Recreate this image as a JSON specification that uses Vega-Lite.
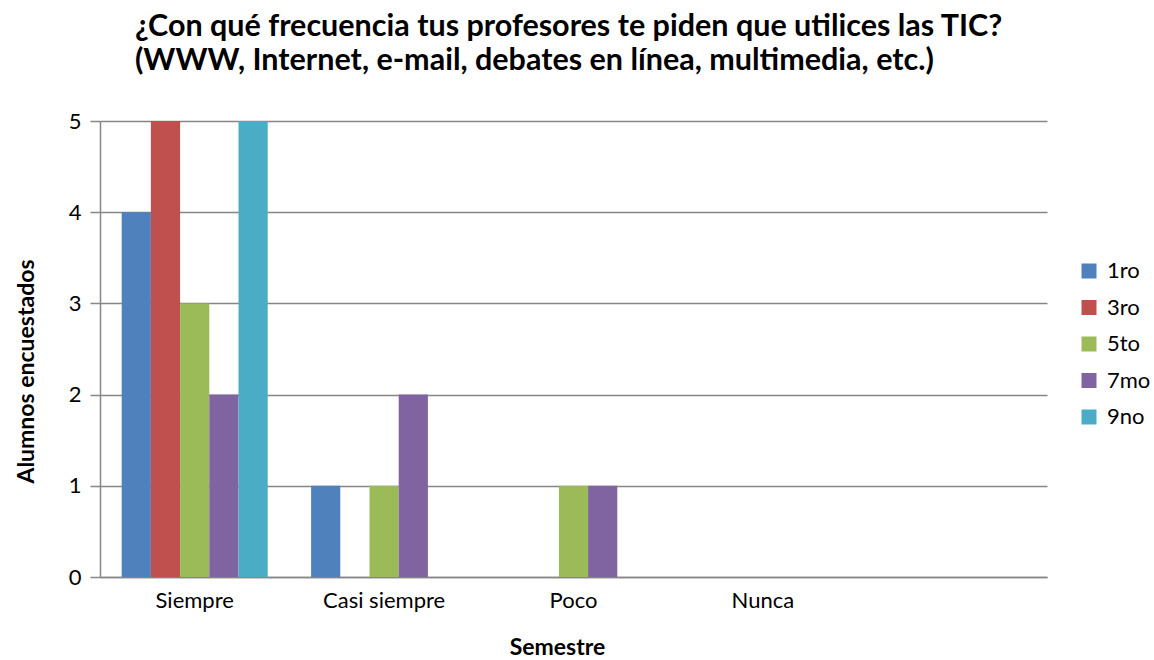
{
  "$schema": "https://vega.github.io/schema/vega-lite/v6.json",
  "autosize": {"type": "none"},
  "padding": {"left": 100, "top": 121, "right": 107, "bottom": 83},
  "width": 947,
  "height": 456,
  "background": "white",
  "title": {
    "text": ["¿Con qué frecuencia tus profesores te piden que utilices las TIC?", "(WWW, Internet, e-mail, debates en línea, multimedia, etc.)"],
    "anchor": "start",
    "frame": "group",
    "dx": 35,
    "offset": 34,
    "font": "Lato",
    "fontSize": 30.5,
    "fontWeight": "bold",
    "lineHeight": 34,
    "color": "black"
  },
  "data": {
    "values": [
      {"frecuencia": "Siempre", "semestre": "1ro", "alumnos": 4},
      {"frecuencia": "Siempre", "semestre": "3ro", "alumnos": 5},
      {"frecuencia": "Siempre", "semestre": "5to", "alumnos": 3},
      {"frecuencia": "Siempre", "semestre": "7mo", "alumnos": 2},
      {"frecuencia": "Siempre", "semestre": "9no", "alumnos": 5},
      {"frecuencia": "Casi siempre", "semestre": "1ro", "alumnos": 1},
      {"frecuencia": "Casi siempre", "semestre": "3ro", "alumnos": 0},
      {"frecuencia": "Casi siempre", "semestre": "5to", "alumnos": 1},
      {"frecuencia": "Casi siempre", "semestre": "7mo", "alumnos": 2},
      {"frecuencia": "Casi siempre", "semestre": "9no", "alumnos": 0},
      {"frecuencia": "Poco", "semestre": "1ro", "alumnos": 0},
      {"frecuencia": "Poco", "semestre": "3ro", "alumnos": 0},
      {"frecuencia": "Poco", "semestre": "5to", "alumnos": 1},
      {"frecuencia": "Poco", "semestre": "7mo", "alumnos": 1},
      {"frecuencia": "Poco", "semestre": "9no", "alumnos": 0},
      {"frecuencia": "Nunca", "semestre": "1ro", "alumnos": 0},
      {"frecuencia": "Nunca", "semestre": "3ro", "alumnos": 0},
      {"frecuencia": "Nunca", "semestre": "5to", "alumnos": 0},
      {"frecuencia": "Nunca", "semestre": "7mo", "alumnos": 0},
      {"frecuencia": "Nunca", "semestre": "9no", "alumnos": 0}
    ]
  },
  "mark": {"type": "bar"},
  "encoding": {
    "x": {
      "field": "frecuencia",
      "type": "nominal",
      "scale": {"domain": ["Siempre", "Casi siempre", "Poco", "Nunca", " "], "paddingInner": 0.229, "paddingOuter": 0.1145},
      "axis": {
        "title": "Semestre",
        "titleFont": "Lato",
        "titleFontSize": 23,
        "titleFontWeight": "bold",
        "titleColor": "black",
        "titlePadding": 25,
        "titleX": 457,
        "labelFont": "Lato",
        "labelFontSize": 22,
        "labelColor": "black",
        "labelAngle": 0,
        "labelPadding": 13,
        "ticks": false,
        "domainColor": "#868686",
        "domainWidth": 1.5
      }
    },
    "xOffset": {
      "field": "semestre",
      "type": "nominal",
      "scale": {"paddingInner": 0, "paddingOuter": 0}
    },
    "y": {
      "field": "alumnos",
      "type": "quantitative",
      "scale": {"domain": [0, 5], "nice": false},
      "axis": {
        "title": "Alumnos encuestados",
        "titleFont": "Lato",
        "titleFontSize": 23,
        "titleFontWeight": "bold",
        "titleColor": "black",
        "titlePadding": 30,
        "titleY": 250,
        "labelFont": "Lato",
        "labelFontSize": 22,
        "labelColor": "black",
        "labelPadding": 9,
        "labelOverlap": false,
        "values": [0, 1, 2, 3, 4, 5],
        "format": "d",
        "tickSize": 10,
        "tickColor": "#868686",
        "tickWidth": 1.5,
        "grid": true,
        "gridColor": "#868686",
        "gridWidth": 1.5,
        "domainColor": "#868686",
        "domainWidth": 1.5
      }
    },
    "color": {
      "field": "semestre",
      "type": "nominal",
      "scale": {
        "domain": ["1ro", "3ro", "5to", "7mo", "9no"],
        "range": ["#4F81BD", "#C0504D", "#9BBB59", "#8064A2", "#4BACC6"]
      },
      "legend": {
        "title": null,
        "orient": "none",
        "legendX": 978,
        "legendY": 139,
        "symbolType": "square",
        "symbolSize": 225,
        "symbolStrokeWidth": 0,
        "labelFont": "Lato",
        "labelFontSize": 22,
        "labelColor": "black",
        "rowPadding": 14.5,
        "labelOffset": 7
      }
    }
  },
  "config": {
    "view": {"stroke": null},
    "axis": {"gridOpacity": 1}
  }
}
